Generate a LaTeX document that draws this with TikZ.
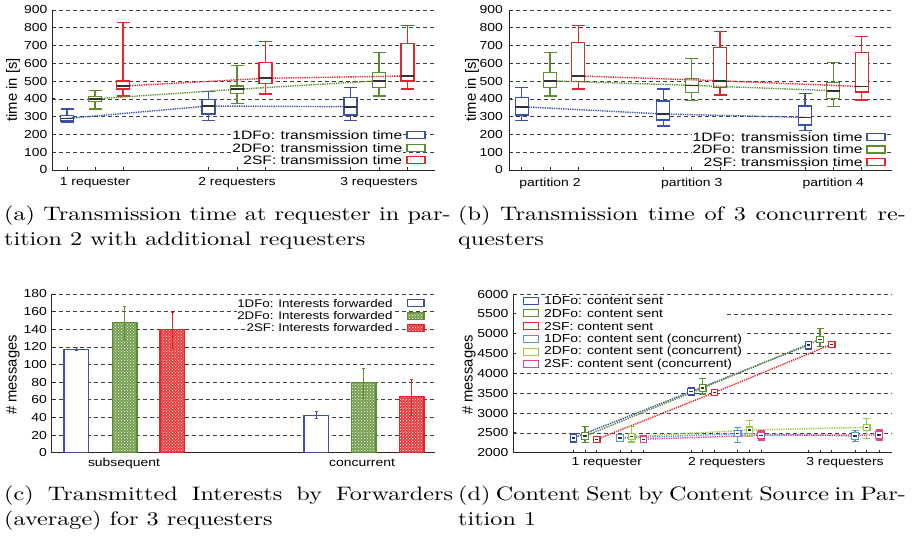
\documentclass[tikz,border=0pt]{standalone}
\usepackage{fontspec}
\usepackage{graphicx}
\usetikzlibrary{patterns}
\newfontfamily\hv{Liberation Sans}
\font\capf="[lmroman10-regular]:mapping=tex-text" at 19.5pt
\definecolor{cA}{HTML}{3C50A8}
\definecolor{cB}{HTML}{5C8E30}
\definecolor{cC}{HTML}{E2262B}
\definecolor{cD}{HTML}{5A92D2}
\definecolor{cE}{HTML}{96CA44}
\definecolor{cF}{HTML}{E6408E}
\newcommand\sx[1]{\scalebox{1.2}[1]{#1}}
\newcommand\sxl[1]{\scalebox{1.28}[1]{#1}}
\tikzset{
 ticklbl/.style={font=\hv\fontsize{11.6}{13}\selectfont, inner sep=0pt},
 leglbl/.style={font=\hv\fontsize{11.6}{13}\selectfont, inner sep=0.6pt, fill=white},
 legab/.style={font=\hv\fontsize{12.2}{13}\selectfont, inner sep=0.6pt, fill=white},
 ylab/.style={font=\hv\fontsize{14.8}{16}\selectfont, rotate=90, inner sep=0pt},
 gridln/.style={black!75, line width=0.7pt, dash pattern=on 4pt off 3pt},
 axisln/.style={black!85, line width=1pt},
 boxln/.style={line width=1.3pt},
 medln/.style={black!80, line width=1.7pt},
 conn/.style={line width=1.4pt, dash pattern=on 1.3pt off 1pt},
 captxt/.style={font=\capf, inner sep=0pt, anchor=base west},
 patB/.style={fill=cB!85!white, postaction={pattern=crosshatch dots, pattern color=white}},
 patC/.style={fill=cC!90!white, postaction={pattern=crosshatch dots, pattern color=white}},
}
\newcommand\bplot[7]{%
 \draw[#2, boxln] (#1,#3) -- (#1,#4) (#1,#6) -- (#1,#7) (#1-6.5,#3) -- (#1+6.5,#3) (#1-6.5,#7) -- (#1+6.5,#7);
 \draw[#2, boxln, fill=white] (#1-6.5,#4) rectangle (#1+6.5,#6);}
\newcommand\bmed[2]{\draw[medln] (#1-6.5,#2) -- (#1+6.5,#2);}
\newcommand\cbar[6]{%
 \fill[#6] (#1-12.15,0) rectangle (#1+12.15,#3);
 \draw[#2, line width=1.3pt] (#1-12.15,0) rectangle (#1+12.15,#3);
 \draw[#2, line width=0.9pt] (#1,#4) -- (#1,#5) (#1-1.5,#4) -- (#1+1.5,#4) (#1-1.5,#5) -- (#1+1.5,#5);}
\newcommand\dpt[5]{%
 \draw[#2, line width=1.1pt] (#1,#4) -- (#1,#5) (#1-3.5,#4) -- (#1+3.5,#4) (#1-3.5,#5) -- (#1+3.5,#5);
 \draw[#2, fill=white, line width=1.2pt] (#1,#3) ++(-3.2pt,-3.2pt) rectangle ++(6.4pt,6.4pt);
 \fill[black!80] (#1,#3) ++(-1.6pt,-0.7pt) rectangle ++(3.2pt,1.4pt);}
\newcommand\capl[2]{\scalebox{1.24}[1]{\makebox[#1][s]{#2}}}
\newcommand\capr[1]{\scalebox{1.24}[1]{#1}}
\begin{document}
\begin{tikzpicture}[x=1pt,y=-1pt]
\useasboundingbox (0,0) rectangle (917,539);
\fill[white] (0,0) rectangle (917,539);

%%%%%%%% (a)
\begin{scope}[shift={(0,170)}, y=0.177778pt]
 \foreach \v in {100,200,...,900} \draw[gridln] (52,\v) -- (435,\v);
 \draw[axisln] (52,900) -- (52,0) -- (435,0);
 \foreach \v in {0,100,...,900} {\draw[axisln, line width=0.8pt] (52,\v) -- ++(3pt,0pt);
   \node[ticklbl, anchor=east] (ta\v) at (47.5,\v) {\sx{\v}};}
 \foreach \x in {67,95,123,208.5,237,265.5,350.5,379,407.5} \draw[axisln, line width=0.8pt] (\x,0) -- ++(0pt,3pt);
 \bplot{67}{cA}{270}{275}{290}{305}{343}
 \bplot{95}{cB}{343}{385}{400}{412}{446}
 \bplot{123}{cC}{416}{455}{472}{500}{830}
 \bplot{208.5}{cA}{277}{315}{360}{397}{440}
 \bplot{237}{cB}{375}{431}{454}{472}{587}
 \bplot{265.5}{cC}{427}{487}{516}{604}{722}
 \bplot{350.5}{cA}{277}{309}{356}{407}{465}
 \bplot{379}{cB}{416}{463}{502}{547}{660}
 \bplot{407.5}{cC}{456}{500}{529}{712}{812}
 \draw[conn, cA] (67,290) -- (208.5,360) -- (350.5,356);
 \draw[conn, cB] (95,400) -- (237,454) -- (379,502);
 \draw[conn, cC] (123,472) -- (265.5,516) -- (407.5,529);
 \bmed{67}{290}\bmed{95}{400}\bmed{123}{472}
 \bmed{208.5}{360}\bmed{237}{454}\bmed{265.5}{516}
 \bmed{350.5}{356}\bmed{379}{502}\bmed{407.5}{529}
\end{scope}
\node[ticklbl] (xa1) at (95,183) {\sx{1 requester}};
\node[ticklbl] (xa2) at (237,183) {\sx{2 requesters}};
\node[ticklbl] (xa3) at (379,183) {\sx{3 requesters}};
\node[ylab] (yla) at (13,90) {time in [s]};
\node[legab, anchor=east] (la1) at (403,135) {\sxl{1DFo: transmission time}};
\node[legab, anchor=east] (la2) at (403,147.7) {\sxl{2DFo: transmission time}};
\node[legab, anchor=east] (la3) at (403,160.3) {\sxl{2SF: transmission time}};
\draw[cA, boxln, fill=white] (407,131.5) rectangle (425,138.5);
\draw[cB, boxln, fill=white] (407,144.2) rectangle (425,151.2);
\draw[cC, boxln, fill=white] (407,156.8) rectangle (425,163.8);

%%%%%%%% (b)
\begin{scope}[shift={(0,170)}, y=0.177778pt]
 \foreach \v in {100,200,...,900} \draw[gridln] (509.3,\v) -- (891.7,\v);
 \draw[axisln] (509.3,900) -- (509.3,0) -- (891.7,0);
 \foreach \v in {0,100,...,900} {\draw[axisln, line width=0.8pt] (509.3,\v) -- ++(3pt,0pt);
   \node[ticklbl, anchor=east] (tb\v) at (503,\v) {\sx{\v}};}
 \foreach \x in {521.7,550,578.3,663.3,691.7,720,805,833.3,861.7} \draw[axisln, line width=0.8pt] (\x,0) -- ++(0pt,3pt);
 \bplot{521.7}{cA}{277}{309}{356}{407}{465}
 \bplot{550}{cB}{416}{463}{502}{547}{660}
 \bplot{578.3}{cC}{456}{497}{529}{716}{812}
 \bplot{663.3}{cA}{247}{281}{315}{388}{456}
 \bplot{691.7}{cB}{390}{435}{476}{516}{628}
 \bplot{720}{cC}{422}{465}{502}{688}{778}
 \bplot{805}{cA}{221}{253}{296}{360}{431}
 \bplot{833.3}{cB}{356}{403}{446}{491}{604}
 \bplot{861.7}{cC}{394}{438}{469}{660}{750}
 \draw[conn, cA] (521.7,356) -- (663.3,315) -- (805,296);
 \draw[conn, cB] (550,502) -- (691.7,476) -- (833.3,446);
 \draw[conn, cC] (578.3,529) -- (720,502) -- (861.7,469);
 \bmed{521.7}{356}\bmed{550}{502}\bmed{578.3}{529}
 \bmed{663.3}{315}\bmed{691.7}{476}\bmed{720}{502}
 \bmed{805}{296}\bmed{833.3}{446}\bmed{861.7}{469}
\end{scope}
\node[ticklbl] (xb1) at (550,183) {\sx{partition 2}};
\node[ticklbl] (xb2) at (691.7,183) {\sx{partition 3}};
\node[ticklbl] (xb3) at (833.3,183) {\sx{partition 4}};
\node[ylab] (ylb) at (472,90) {time in [s]};
\node[legab, anchor=east] (lb1) at (863.3,136.7) {\sxl{1DFo: transmission time}};
\node[legab, anchor=east] (lb2) at (863.3,149.5) {\sxl{2DFo: transmission time}};
\node[legab, anchor=east] (lb3) at (863.3,162.3) {\sxl{2SF: transmission time}};
\draw[cA, boxln, fill=white] (867,133.2) rectangle (885,140.2);
\draw[cB, boxln, fill=white] (867,146) rectangle (885,153);
\draw[cC, boxln, fill=white] (867,158.8) rectangle (885,165.8);

%%%%%%%% (c)
\begin{scope}[shift={(0,452.7)}, y=0.8817pt]
 \foreach \v in {20,40,...,180} \draw[gridln] (51.7,\v) -- (435,\v);
 \draw[axisln] (51.7,180) -- (51.7,0) -- (435,0);
 \foreach \v in {0,20,...,180} {\draw[axisln, line width=0.8pt] (51.7,\v) -- ++(3pt,0pt);
   \node[ticklbl, anchor=east] (tc\v) at (47,\v) {\sx{\v}};}
 \cbar{76.2}{cA}{117.2}{115.5}{119}{white}
 \cbar{124.7}{cB}{147.9}{128}{166.4}{patB}
 \cbar{172.2}{cC}{139.5}{118.4}{159.2}{patC}
 \cbar{316.2}{cA}{42}{38.5}{46.5}{white}
 \cbar{363.8}{cB}{79.4}{61.6}{95.7}{patB}
 \cbar{411.7}{cC}{63.5}{42.7}{83.2}{patC}
\end{scope}
\node[ticklbl] (xc1) at (124,463) {\sx{subsequent}};
\node[ticklbl] (xc2) at (362,463) {\sx{concurrent}};
\node[ylab] (ylc) at (13,375) {\# messages};
\node[leglbl, anchor=east, font=\hv\fontsize{11.1}{13}\selectfont] (lc1) at (393.3,303.3) {\sx{1DFo: Interests forwarded}};
\node[leglbl, anchor=east, font=\hv\fontsize{11.1}{13}\selectfont] (lc2) at (393.3,315.7) {\sx{2DFo: Interests forwarded}};
\node[leglbl, anchor=east, font=\hv\fontsize{11.1}{13}\selectfont] (lc3) at (393.3,328) {\sx{2SF: Interests forwarded}};
\draw[cA, boxln, fill=white] (407.3,299.8) rectangle (424,306.8);
\fill[patB] (407.3,312.2) rectangle (424,319.2);
\draw[cB, boxln] (407.3,312.2) rectangle (424,319.2);
\fill[patC] (407.3,324.5) rectangle (424,331.5);
\draw[cC, boxln] (407.3,324.5) rectangle (424,331.5);

%%%%%%%% (d)
\begin{scope}[shift={(0,532.05)}, y=0.039675pt]
 \foreach \v in {2500,3000,3500,4000,6000} \draw[gridln] (513.3,\v) -- (891.7,\v);
 \draw[gridln] (726.7,5500) -- (891.7,5500);
 \draw[gridln] (746.7,5000) -- (891.7,5000);
 \draw[gridln] (746.7,4500) -- (891.7,4500);
 \draw[axisln] (513.3,6000) -- (513.3,2000) -- (891.7,2000);
 \foreach \v in {2000,2500,...,6000} {\draw[axisln, line width=0.8pt] (513.3,\v) -- ++(3pt,0pt);
   \node[ticklbl, anchor=east] (td\v) at (508.5,\v) {\sx{\v}};}
 \foreach \x in {573.3,585,596.7,620,631.7,643.3,691,702.7,714.3,737.7,749.3,761,808.3,820,831.7,855,866.7,879}
   \draw[axisln, line width=0.8pt] (\x,2000) -- ++(0pt,3pt);
 \draw[conn, cA] (573.3,2370) -- (691,3540) -- (808.3,4714);
 \draw[conn, cB] (585,2420) -- (702.7,3630) -- (820,4858);
 \draw[conn, cC] (596.7,2335) -- (714.3,3515) -- (831.7,4732);
 \draw[conn, cD] (620,2370) -- (737.7,2480) -- (855,2421);
 \draw[conn, cE] (631.7,2410) -- (749.3,2570) -- (866.7,2640);
 \draw[conn, cF] (643.3,2340) -- (761,2440) -- (879,2446);
 \dpt{573.3}{cA}{2370}{2260}{2480}
 \dpt{691}{cA}{3540}{3440}{3650}
 \dpt{808.3}{cA}{4714}{4595}{4805}
 \dpt{585}{cB}{2420}{2250}{2660}
 \dpt{702.7}{cB}{3630}{3480}{3870}
 \dpt{820}{cB}{4858}{4672}{5135}
 \dpt{596.7}{cC}{2335}{2300}{2375}
 \dpt{714.3}{cC}{3515}{3465}{3565}
 \dpt{831.7}{cC}{4732}{4690}{4780}
 \dpt{620}{cD}{2370}{2300}{2450}
 \dpt{737.7}{cD}{2480}{2250}{2640}
 \dpt{855}{cD}{2421}{2277}{2570}
 \dpt{631.7}{cE}{2410}{2270}{2660}
 \dpt{749.3}{cE}{2570}{2400}{2810}
 \dpt{866.7}{cE}{2640}{2363}{2867}
 \dpt{643.3}{cF}{2340}{2310}{2370}
 \dpt{761}{cF}{2440}{2320}{2570}
 \dpt{879}{cF}{2446}{2320}{2572}
\end{scope}
\node[ticklbl] (xd1) at (606.7,463) {\sx{1 requester}};
\node[ticklbl] (xd2) at (726.7,463) {\sx{2 requesters}};
\node[ticklbl] (xd3) at (845,463) {\sx{3 requesters}};
\node[ylab] (yld) at (469,375) {\# messages};
\foreach \i/\yy/\c/\t in {1/300.7/cA/{1DFo: content sent},2/313.3/cB/{2DFo: content sent},3/326/cC/{2SF: content sent},4/339/cD/{1DFo: content sent (concurrent)},5/351.7/cE/{2DFo: content sent (concurrent)},6/364.3/cF/{2SF: content sent (concurrent)}}{
  \draw[\c, boxln, fill=white] (523.3,\yy-3.5) rectangle (538.3,\yy+3.5);
  \node[leglbl, anchor=west] (ld\i) at (543.3,\yy) {\sx{\t}};}

%%%%%%%% captions
\node[captxt] (ca1) at (4,220) {\capl{360pt}{(a) Transmission time at requester in par-}};
\node[captxt] (ca2) at (4,245.7) {\capr{tition 2 with additional requesters}};
\node[captxt] (cb1) at (458,220) {\capl{361pt}{(b) Transmission time of 3 concurrent re-}};
\node[captxt] (cb2) at (458,245.7) {\capr{questers}};
\node[captxt] (cc1) at (4,500) {\capl{362pt}{(c) Transmitted Interests by Forwarders}};
\node[captxt] (cc2) at (4,525.7) {\capr{(average) for 3 requesters}};
\node[captxt] (cd1) at (458,500) {\capl{361pt}{(d) Content Sent by Content Source in Par-}};
\node[captxt] (cd2) at (458,525.7) {\capr{tition 1}};
\end{tikzpicture}
\end{document}
